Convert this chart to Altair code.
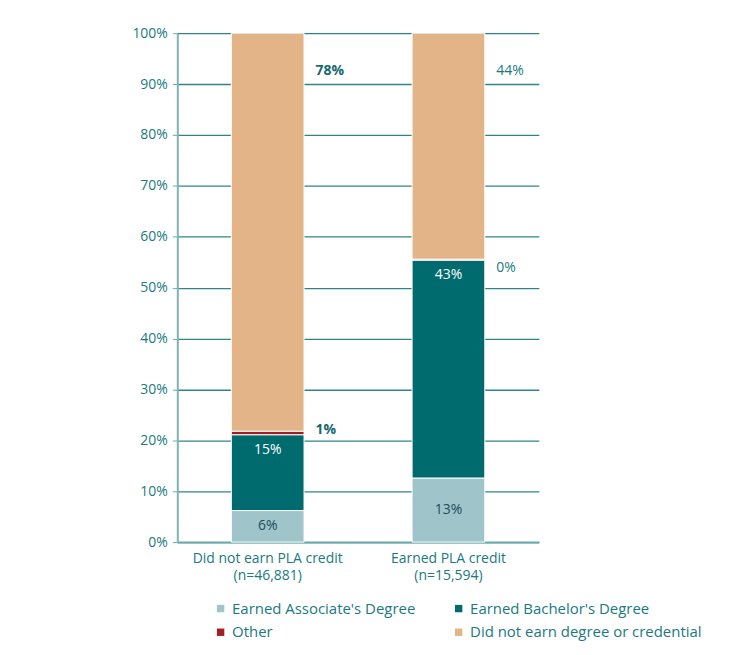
import altair as alt
import pandas as pd

categories = ["Did not earn PLA credit", "Earned PLA credit"]
sample_sizes = ["(n=46,881)", "(n=15,594)"]
groups = ["Earned Associate's Degree", "Earned Bachelor's Degree", "Other",
          "Did not earn degree or credential"]
values_no_pla = [6.2, 14.9, 0.7, 78.2]
values_pla = [12.6, 42.8, 0.2, 44.4]
labels_no_pla = ["6%", "15%", "1%", "78%"]
labels_pla = ["13%", "43%", "0%", "44%"]
colors = ["#9fc4c9", "#006b6f", "#a31d24", "#e3b488"]

rows = []
for ci, (cat, n, vals, labs) in enumerate([(categories[0], sample_sizes[0], values_no_pla, labels_no_pla),
                                           (categories[1], sample_sizes[1], values_pla, labels_pla)]):
    acc = 0.0
    for i, (g, v, lab) in enumerate(zip(groups, vals, labs)):
        rows.append({"cat": cat + "\n" + n, "ci": ci, "group": g, "idx": i, "value": v,
                     "start": acc, "end": acc + v, "mid": acc + v / 2, "label": lab})
        acc += v
df = pd.DataFrame(rows)
cat_order = [c + "\n" + n for c, n in zip(categories, sample_sizes)]

FONT = "Open Sans"
TEAL_TEXT = "#1a7a7e"

x_enc = alt.X("cat:N", sort=cat_order, title=None,
              scale=alt.Scale(paddingInner=0, paddingOuter=0),
              axis=alt.Axis(labelExpr="split(datum.label, '\\n')", labelAngle=0,
                            labelFontSize=14, labelColor=TEAL_TEXT, labelFont=FONT,
                            labelLineHeight=18, labelPadding=9,
                            domainColor="#6aa9ab", domainWidth=2,
                            ticks=False, grid=False))

base = alt.Chart(df)

bars = base.mark_bar(width=73, stroke="white", strokeWidth=1).encode(
    x=x_enc,
    y=alt.Y("start:Q", title=None,
            scale=alt.Scale(domain=[0, 100], nice=False),
            axis=alt.Axis(values=list(range(0, 101, 10)), labelExpr="datum.value + '%'",
                          labelFontSize=14, labelColor=TEAL_TEXT, labelFont=FONT,
                          labelPadding=5, tickSize=5, tickColor="#6aa9ab",
                          domainColor="#7fb3b5", domainWidth=2,
                          gridColor="#2e8587", gridWidth=1.3)),
    y2="end:Q",
    color=alt.Color("group:N", sort=groups,
                    scale=alt.Scale(domain=groups, range=colors),
                    legend=alt.Legend(title=None, orient="none", legendX=36, legendY=570,
                                      direction="horizontal",
                                      columns=2, columnPadding=35, rowPadding=8,
                                      symbolType="square", symbolSize=55,
                                      symbolStrokeWidth=0, symbolOffset=0,
                                      labelFontSize=15, labelColor=TEAL_TEXT,
                                      labelFont=FONT, labelLimit=300, labelOffset=4)),
    order=alt.Order("idx:Q"),
)

xs = alt.X("cat:N", sort=cat_order)

assoc_text = base.transform_filter(alt.datum.idx == 0).mark_text(
    fontSize=14, font=FONT, color="#1d4d5b", baseline="middle").encode(
    x=xs, y="mid:Q", text="label:N")

bach_text = base.transform_filter(alt.datum.idx == 1).mark_text(
    fontSize=14, font=FONT, color="white", baseline="middle", dy=15).encode(
    x=xs, y="end:Q", text="label:N")

layers = [bars, assoc_text, bach_text]
for ci, (fw, col, ody) in enumerate([("bold", "#17686c", -1), ("normal", TEAL_TEXT, 9)]):
    layers.append(base.transform_filter((alt.datum.idx == 2) & (alt.datum.ci == ci)).mark_text(
        fontSize=14, font=FONT, align="left", baseline="middle", dx=48, dy=ody,
        fontWeight=fw, color=col).encode(x=xs, y="end:Q", text="label:N"))
    layers.append(base.transform_filter((alt.datum.idx == 3) & (alt.datum.ci == ci)).mark_text(
        fontSize=14, font=FONT, align="left", baseline="middle", dx=48, dy=38,
        fontWeight=fw, color=col).encode(x=xs, y="end:Q", text="label:N"))

chart = alt.layer(*layers).properties(
    width=363, height=511,
    autosize=alt.AutoSizeParams(type="none"),
    padding={"left": 170, "top": 24, "right": 200, "bottom": 100},
    background="white",
).configure_view(stroke=None)

chart.save("out.html", embed_options={"renderer": "svg", "actions": False})
